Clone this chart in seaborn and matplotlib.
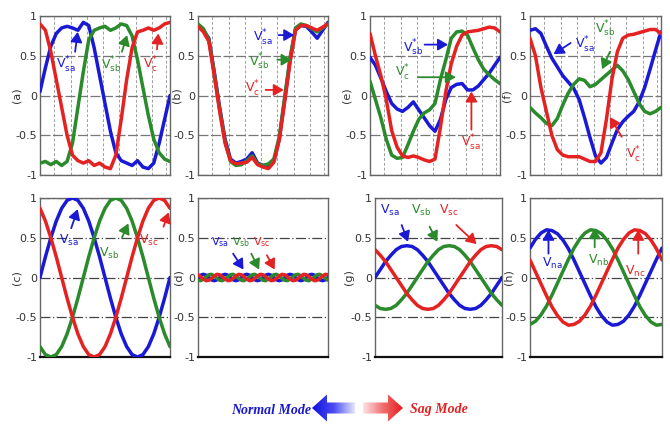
import numpy as np
import pandas as pd
import matplotlib
matplotlib.use("Agg")
import matplotlib.pyplot as plt
import seaborn as sns
from matplotlib.patches import FancyArrow
from matplotlib.colors import LinearSegmentedColormap

sns.set_style("white")
plt.rcParams['font.family'] = ['DejaVu Sans']
plt.rcParams['axes.unicode_minus'] = False

BLUE, GREEN, RED = "#1a1ad6", "#2b8a2b", "#e52222"

# ---------------- data ----------------
t25 = np.arange(25) / 24          # sample times, one cycle
t49 = np.arange(49) / 48

a_blue = [0.05, 0.35, 0.62, 0.78, 0.85, 0.87, 0.85, 0.82, 0.92, 0.88, 0.6, 0.25, -0.1,
          -0.45, -0.72, -0.82, -0.85, -0.88, -0.82, -0.9, -0.92, -0.85, -0.6, -0.3, 0.0]
a_green = [-0.85, -0.83, -0.87, -0.83, -0.88, -0.83, -0.6, -0.15, 0.3, 0.7, 0.82, 0.85, 0.87,
           0.82, 0.85, 0.9, 0.88, 0.75, 0.45, 0.1, -0.25, -0.55, -0.72, -0.8, -0.83]
a_red = [0.9, 0.82, 0.55, 0.2, -0.15, -0.5, -0.75, -0.82, -0.85, -0.82, -0.88, -0.85, -0.9,
         -0.92, -0.75, -0.3, 0.2, 0.6, 0.8, 0.82, 0.85, 0.82, 0.85, 0.9, 0.92]

b_blue = [0.88, 0.82, 0.72, 0.3, -0.15, -0.55, -0.8, -0.85, -0.83, -0.8, -0.72, -0.85, -0.88,
          -0.88, -0.82, -0.55, -0.05, 0.45, 0.83, 0.88, 0.87, 0.8, 0.72, 0.82, 0.92]
b_green = [0.9, 0.84, 0.7, 0.28, -0.18, -0.58, -0.83, -0.88, -0.87, -0.82, -0.76, -0.86, -0.88,
           -0.86, -0.8, -0.52, -0.02, 0.48, 0.85, 0.9, 0.88, 0.84, 0.8, 0.85, 0.9]
b_red = [0.87, 0.8, 0.68, 0.25, -0.2, -0.6, -0.82, -0.86, -0.85, -0.84, -0.78, -0.87, -0.9,
         -0.92, -0.84, -0.56, -0.08, 0.42, 0.82, 0.88, 0.88, 0.85, 0.82, 0.86, 0.9]

e_blue = [0.48, 0.38, 0.22, 0.05, -0.1, -0.17, -0.2, -0.15, -0.08, -0.18, -0.28, -0.38, -0.45,
          -0.3, -0.05, 0.1, 0.14, 0.15, 0.07, 0.07, 0.12, 0.2, 0.28, 0.38, 0.48]
e_green = [0.18, -0.05, -0.28, -0.55, -0.75, -0.79, -0.78, -0.62, -0.45, -0.3, -0.22, -0.18, -0.1,
           0.2, 0.45, 0.72, 0.8, 0.81, 0.76, 0.6, 0.45, 0.33, 0.26, 0.2, 0.15]
e_red = [0.78, 0.5, 0.25, -0.05, -0.44, -0.65, -0.76, -0.78, -0.76, -0.78, -0.81, -0.83, -0.8,
         -0.4, 0.05, 0.4, 0.62, 0.76, 0.8, 0.81, 0.82, 0.84, 0.86, 0.85, 0.8]

f_blue = [0.82, 0.84, 0.78, 0.62, 0.47, 0.36, 0.25, 0.17, 0.09, -0.05, -0.28, -0.53, -0.76,
          -0.85, -0.78, -0.6, -0.43, -0.33, -0.26, -0.2, -0.08, 0.1, 0.33, 0.57, 0.8]
f_green = [-0.15, -0.22, -0.28, -0.35, -0.38, -0.29, -0.12, 0.03, 0.14, 0.21, 0.19, 0.11, 0.14,
           0.2, 0.26, 0.32, 0.38, 0.31, 0.2, 0.05, -0.1, -0.2, -0.23, -0.2, -0.15]
f_red = [0.72, 0.5, 0.1, -0.2, -0.5, -0.68, -0.75, -0.77, -0.77, -0.77, -0.8, -0.83, -0.83,
         -0.72, -0.3, 0.2, 0.55, 0.72, 0.76, 0.77, 0.79, 0.81, 0.83, 0.83, 0.78]

c_blue = [0, 0.26, 0.5, 0.71, 0.87, 0.97, 1, 0.97, 0.87, 0.71, 0.5, 0.26, 0,
          -0.26, -0.5, -0.71, -0.87, -0.97, -1, -0.97, -0.87, -0.71, -0.5, -0.26, 0]
c_green = [-0.87, -0.97, -1, -0.97, -0.87, -0.71, -0.5, -0.26, 0, 0.26, 0.5, 0.71, 0.87,
           0.97, 1, 0.97, 0.87, 0.71, 0.5, 0.26, 0, -0.26, -0.5, -0.71, -0.87]
c_red = [0.87, 0.71, 0.5, 0.26, 0, -0.26, -0.5, -0.71, -0.87, -0.97, -1, -0.97, -0.87,
         -0.71, -0.5, -0.26, 0, 0.26, 0.5, 0.71, 0.87, 0.97, 1, 0.97, 0.87]

d_blue = [0, .03, .04, .03, 0, -.03, -.04, -.03, 0, .03, .04, .03, 0, -.03, -.04, -.03,
          0, .03, .04, .03, 0, -.03, -.04, -.03, 0, .03, .04, .03, 0, -.03, -.04, -.03,
          0, .03, .04, .03, 0, -.03, -.04, -.03, 0, .03, .04, .03, 0, -.03, -.04, -.03, 0]
d_green = [-.035, -.04, -.02, .01, .035, .04, .02, -.01, -.035, -.04, -.02, .01, .035, .04, .02, -.01,
           -.035, -.04, -.02, .01, .035, .04, .02, -.01, -.035, -.04, -.02, .01, .035, .04, .02, -.01,
           -.035, -.04, -.02, .01, .035, .04, .02, -.01, -.035, -.04, -.02, .01, .035, .04, .02, -.01, -.035]
d_red = [.035, .01, -.02, -.04, -.035, -.01, .02, .04, .035, .01, -.02, -.04, -.035, -.01, .02, .04,
         .035, .01, -.02, -.04, -.035, -.01, .02, .04, .035, .01, -.02, -.04, -.035, -.01, .02, .04,
         .035, .01, -.02, -.04, -.035, -.01, .02, .04, .035, .01, -.02, -.04, -.035, -.01, .02, .04, .035]

g_blue = [0, 0.1, 0.2, 0.28, 0.35, 0.39, 0.4, 0.39, 0.35, 0.28, 0.2, 0.1, 0,
          -0.1, -0.2, -0.28, -0.35, -0.39, -0.4, -0.39, -0.35, -0.28, -0.2, -0.1, 0]
g_green = [-0.35, -0.39, -0.4, -0.39, -0.35, -0.28, -0.2, -0.1, 0, 0.1, 0.2, 0.28, 0.35,
           0.39, 0.4, 0.39, 0.35, 0.28, 0.2, 0.1, 0, -0.1, -0.2, -0.28, -0.35]
g_red = [0.35, 0.28, 0.2, 0.1, 0, -0.1, -0.2, -0.28, -0.35, -0.39, -0.4, -0.39, -0.35,
         -0.28, -0.2, -0.1, 0, 0.1, 0.2, 0.28, 0.35, 0.39, 0.4, 0.39, 0.35]

h_blue = [0.37, 0.48, 0.56, 0.6, 0.59, 0.55, 0.47, 0.36, 0.22, 0.07, -0.08, -0.23, -0.37,
          -0.48, -0.56, -0.6, -0.59, -0.55, -0.47, -0.36, -0.22, -0.07, 0.08, 0.23, 0.37]
h_green = [-0.59, -0.55, -0.47, -0.36, -0.22, -0.07, 0.08, 0.23, 0.37, 0.48, 0.56, 0.6, 0.59,
           0.55, 0.47, 0.36, 0.22, 0.07, -0.08, -0.23, -0.37, -0.48, -0.56, -0.6, -0.59]
h_red = [0.22, 0.07, -0.08, -0.23, -0.37, -0.48, -0.56, -0.6, -0.59, -0.55, -0.47, -0.36, -0.22,
         -0.07, 0.08, 0.23, 0.37, 0.48, 0.56, 0.6, 0.59, 0.55, 0.47, 0.36, 0.22]

ytick_vals = [1, 0.5, 0, -0.5, -1]
ytick_labels = ["1", "0.5", "0", "-0.5", "-1"]
top_vgrid = [0.11, 0.235, 0.36, 0.485, 0.61, 0.735, 0.86, 0.97]

def lab(sup, sub):
    s = "^{*}" if sup else ""
    return r"$\mathregular{V" + s + "_{" + sub + "}}$"

# ---------------- figure ----------------
W, H = 670, 424
fig = plt.figure(figsize=(W / 100, H / 100), dpi=100)
fig.patch.set_facecolor("white")

def add_ax(x0, x1, ytop, ybot):
    return fig.add_axes([x0 / W, 1 - ybot / H, (x1 - x0) / W, (ybot - ytop) / H])

panels = [
    # name, box (px), ylabel x (px), t, series, top-row?, annotations (text pos, tail, head)
    ("(a)", (40, 170, 16, 175), 21, t25, (a_blue, a_green, a_red), True,
     [(lab(1, "sa"), (0.2, 0.38), (0.27, 0.55), (0.29, 0.8)),
      (lab(1, "sb"), (0.55, 0.38), (0.63, 0.55), (0.67, 0.76)),
      (lab(1, "c"), (0.85, 0.38), (0.9, 0.58), (0.91, 0.78))]),
    ("(b)", (198, 328, 16, 175), 181, t25, (b_blue, b_green, b_red), True,
     [(lab(1, "sa"), (0.5, 0.72), (0.62, 0.76), (0.74, 0.76)),
      (lab(1, "sb"), (0.47, 0.42), (0.61, 0.45), (0.72, 0.45)),
      (lab(1, "c"), (0.42, 0.08), (0.52, 0.07), (0.66, 0.07))]),
    ("(e)", (370, 500, 16, 175), 352, t25, (e_blue, e_green, e_red), True,
     [(lab(1, "sb"), (0.33, 0.6), (0.42, 0.64), (0.6, 0.64)),
      (lab(1, "c"), (0.25, 0.28), (0.37, 0.23), (0.66, 0.23)),
      (lab(1, "sa"), (0.78, -0.6), (0.78, -0.43), (0.78, 0.05))]),
    ("(f)", (530, 661, 16, 175), 511, t25, (f_blue, f_green, f_red), True,
     [(lab(1, "sa"), (0.42, 0.64), (0.31, 0.66), (0.18, 0.52)),
      (lab(1, "sb"), (0.57, 0.84), (0.61, 0.55), (0.55, 0.33)),
      (lab(1, "c"), (0.79, -0.75), (0.7, -0.52), (0.61, -0.27))]),
    ("(c)", (40, 170, 198, 357), 21, t25, (c_blue, c_green, c_red), False,
     [(lab(0, "sa"), (0.22, 0.46), (0.24, 0.62), (0.29, 0.86)),
      (lab(0, "sb"), (0.53, 0.3), (0.63, 0.5), (0.68, 0.68)),
      (lab(0, "sc"), (0.84, 0.46), (0.95, 0.64), (0.99, 0.82))]),
    ("(d)", (198, 328, 198, 357), 183, t49, (d_blue, d_green, d_red), False,
     [(lab(0, "sa"), (0.17, 0.45), (0.27, 0.3), (0.35, 0.1)),
      (lab(0, "sb"), (0.33, 0.45), (0.41, 0.3), (0.47, 0.1)),
      (lab(0, "sc"), (0.49, 0.45), (0.53, 0.28), (0.59, 0.1))]),
    ("(g)", (375, 502, 198, 357), 354, t25, (g_blue, g_green, g_red), False,
     [(lab(0, "sa"), (0.12, 0.84), (0.21, 0.66), (0.26, 0.45)),
      (lab(0, "sb"), (0.36, 0.84), (0.43, 0.64), (0.49, 0.45)),
      (lab(0, "sc"), (0.58, 0.84), (0.64, 0.66), (0.8, 0.42))]),
    ("(h)", (530, 662, 198, 357), 513, t25, (h_blue, h_green, h_red), False,
     [(lab(0, "na"), (0.17, 0.18), (0.14, 0.3), (0.14, 0.6)),
      (lab(0, "nb"), (0.52, 0.22), (0.49, 0.38), (0.49, 0.62)),
      (lab(0, "nc"), (0.8, 0.08), (0.82, 0.3), (0.82, 0.6))]),
]

colors = [BLUE, GREEN, RED]
for name, box, ylx, t, series, top, anns in panels:
    ax = add_ax(*box)
    n = len(t)
    df = pd.DataFrame({"t": np.tile(t, 3),
                       "v": np.concatenate([np.asarray(s, float) for s in series]),
                       "ph": np.repeat(["a", "b", "c"], n)})
    sns.lineplot(data=df, x="t", y="v", hue="ph", palette=colors, estimator=None,
                 sort=False, lw=2.5, legend=False, ax=ax, zorder=3)
    ax.set_xlim(0, 1)
    ax.set_ylim(-1, 1)
    ax.set_yticks(ytick_vals)
    ax.set_yticklabels(ytick_labels)
    ax.set_xlabel("")
    ax.set_ylabel(name, fontsize=8, color="#333333")
    ax.yaxis.set_label_coords((ylx - box[0]) / (box[1] - box[0]), 0.5)
    ax.tick_params(axis="y", labelsize=8, length=2, direction="in", pad=2, colors="#333333")
    if top:
        ax.set_xticks(top_vgrid)
        ax.set_xticklabels([])
        ax.tick_params(axis="x", length=0)
        ax.xaxis.grid(True, color="#a0a0a0", lw=0.7, ls=(0, (3, 2)))
        ax.yaxis.grid(True, color="#777777", lw=0.9, ls=(0, (8, 2)))
    else:
        ax.set_xticks([])
        ax.yaxis.grid(True, color="#444444", lw=0.9, ls=(0, (8, 2, 1, 2)))
    ax.set_axisbelow(True)
    for sp in ax.spines.values():
        sp.set_color("#666666")
        sp.set_linewidth(1.0)
    if not top:
        ax.spines["bottom"].set_color("#111111")
        ax.spines["bottom"].set_linewidth(1.6)
    fs = 8 if name == "(d)" else 9
    for (txt, tp, tail, head), col in zip(anns, colors):
        ax.text(tp[0], tp[1], txt, color=col, fontsize=fs, ha="center", va="center", zorder=5)
        ax.annotate("", xy=head, xytext=tail, zorder=5,
                    arrowprops=dict(arrowstyle="-|>,head_width=0.35,head_length=0.6",
                                    color=col, lw=1.3, shrinkA=0, shrinkB=0))

# ---------------- bottom mode legend ----------------
lax = fig.add_axes([0, 0, 1, 50 / H])
lax.set_axis_off()
cy = 16
blue_map = LinearSegmentedColormap.from_list("bm", ["#e4e6ff", "#4a4af0", "#1010e0"])
red_map = LinearSegmentedColormap.from_list("rm", ["#fde4e4", "#f07070", "#e81818"])
grad = np.linspace(0, 1, 256).reshape(1, -1)

arrow_l = FancyArrow(355, cy, -43, 0, width=11, head_width=27, head_length=15,
                     length_includes_head=True, facecolor="none", edgecolor="none")
lax.add_patch(arrow_l)
im1 = lax.imshow(grad[:, ::-1], extent=[312, 355, cy - 14, cy + 14], cmap=blue_map,
                 aspect="auto", interpolation="bilinear")
im1.set_clip_path(arrow_l)

arrow_r = FancyArrow(363, cy, 40, 0, width=11, head_width=27, head_length=15,
                     length_includes_head=True, facecolor="none", edgecolor="none")
lax.add_patch(arrow_r)
im2 = lax.imshow(grad, extent=[363, 403, cy - 14, cy + 14], cmap=red_map,
                 aspect="auto", interpolation="bilinear")
im2.set_clip_path(arrow_r)

lax.text(311, cy - 2, "Normal Mode", color="#1a1acc", fontsize=10, fontweight="bold",
         fontstyle="italic", family="Liberation Serif", ha="right", va="center")
lax.text(410, cy - 2, "Sag Mode", color="#e52222", fontsize=10, fontweight="bold",
         fontstyle="italic", family="Liberation Serif", ha="left", va="center")
lax.set_xlim(0, W)
lax.set_ylim(0, 50)

fig.savefig("out.png", dpi=100, facecolor="white")
